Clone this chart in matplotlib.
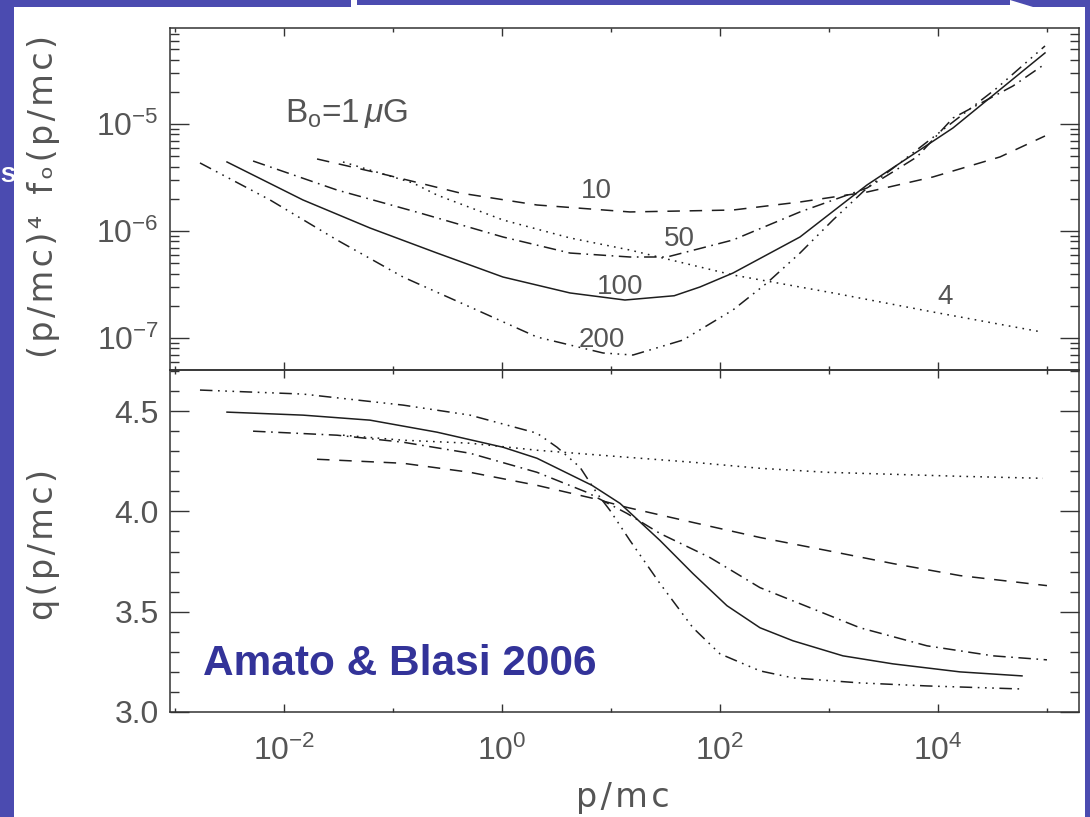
import matplotlib
matplotlib.use('Agg')
import numpy as np
import matplotlib.pyplot as plt
from matplotlib.patches import Polygon
from matplotlib.ticker import FixedLocator, NullFormatter, LogLocator, MultipleLocator, FuncFormatter

# ---------------- data ----------------
# log10(p/mc) and log10((p/mc)^4 f0) for each curve (labelled by value)
top_lx_4 = [-1.459, -0.817, -0.596, 0.009, 0.624, 1.174, 2.119, 3.037, 3.954, 4.954]
top_ly_4 = [-5.355, -5.551, -5.664, -5.897, -6.065, -6.178, -6.411, -6.579, -6.757, -6.944]

top_lx_10 = [-1.697, -1.055, -0.385, 0.321, 1.174, 2.119, 2.734, 3.349, 3.954, 4.569, 4.982]
top_ly_10 = [-5.327, -5.477, -5.645, -5.757, -5.822, -5.804, -5.729, -5.636, -5.495, -5.308, -5.112]

top_lx_50 = [-2.284, -1.514, -0.752, 0.009, 0.624, 1.174, 1.514, 2.119, 2.734, 3.349, 3.807, 4.138, 4.688, 4.982]
top_ly_50 = [-5.346, -5.617, -5.832, -6.056, -6.206, -6.243, -6.243, -6.084, -5.822, -5.598, -5.308, -4.944, -4.645, -4.439]

top_lx_100 = [-2.523, -1.826, -1.211, -0.596, 0.009, 0.624, 1.128, 1.58, 1.817, 2.119, 2.734, 3.349, 4.138, 4.982]
top_ly_100 = [-5.355, -5.710, -5.972, -6.206, -6.430, -6.579, -6.645, -6.605, -6.523, -6.393, -6.056, -5.570, -5.037, -4.336]

top_lx_200 = [-2.771, -2.128, -1.514, -0.908, -0.294, 0.321, 0.927, 1.202, 1.661, 2.119, 2.431, 2.734, 3.037, 3.349, 3.651, 4.138, 4.541, 4.982]
top_ly_200 = [-5.364, -5.710, -6.084, -6.430, -6.710, -6.991, -7.140, -7.159, -7.019, -6.738, -6.486, -6.206, -5.897, -5.598, -5.364, -4.981, -4.664, -4.271]

# log10(p/mc) and q(p/mc)
bot_lx_4 = [-1.459, -0.908, -0.294, 0.321, 1.147, 1.752, 2.367, 2.982, 3.587, 4.202, 4.963]
bot_q_4 = [4.38, 4.355, 4.34, 4.305, 4.27, 4.245, 4.215, 4.195, 4.185, 4.175, 4.165]

bot_lx_10 = [-1.697, -0.908, -0.294, 0.321, 0.835, 1.147, 1.752, 2.367, 2.982, 3.587, 4.202, 5.0]
bot_q_10 = [4.26, 4.24, 4.195, 4.13, 4.065, 4.02, 3.945, 3.87, 3.805, 3.74, 3.68, 3.63]

bot_lx_50 = [-2.284, -1.514, -0.908, -0.294, 0.321, 0.780, 1.147, 1.450, 1.908, 2.367, 2.826, 3.284, 3.899, 4.505, 5.0]
bot_q_50 = [4.40, 4.38, 4.345, 4.29, 4.195, 4.095, 3.99, 3.89, 3.77, 3.62, 3.52, 3.42, 3.33, 3.28, 3.26]

bot_lx_100 = [-2.523, -1.826, -1.211, -0.596, 0.009, 0.321, 0.826, 1.083, 1.450, 1.752, 2.064, 2.367, 2.670, 3.128, 3.587, 4.202, 4.771]
bot_q_100 = [4.495, 4.48, 4.455, 4.395, 4.32, 4.265, 4.13, 4.04, 3.855, 3.69, 3.53, 3.42, 3.355, 3.28, 3.24, 3.20, 3.18]

bot_lx_200 = [-2.771, -1.826, -0.908, -0.294, 0.321, 0.505, 0.716, 0.872, 0.991, 1.174, 1.450, 1.752, 2.0, 2.367, 2.670, 3.284, 3.899, 4.752]
bot_q_200 = [4.605, 4.585, 4.53, 4.48, 4.39, 4.32, 4.22, 4.09, 4.005, 3.855, 3.64, 3.42, 3.29, 3.205, 3.17, 3.145, 3.13, 3.115]

curve_names = ['4', '10', '50', '100', '200']
x_major = [1e-2, 1e0, 1e2, 1e4]
x_minor = [1e-3, 1e-1, 1e1, 1e3, 1e5]
q_major = [3.0, 3.5, 4.0, 4.5]

# ---------------- style ----------------
plt.rcParams['lines.scale_dashes'] = False
plt.rcParams['font.family'] = ['Liberation Sans', 'DejaVu Sans']
plt.rcParams['mathtext.fontset'] = 'custom'
plt.rcParams['mathtext.rm'] = 'Liberation Sans'
plt.rcParams['mathtext.it'] = 'Liberation Sans:italic'
plt.rcParams['mathtext.bf'] = 'Liberation Sans:bold'

TXT = '#555555'
LINE = '#1e1e1e'
BLUE = '#4b4bb0'
styles = {
    '4': (0, (1.2, 3.8)),
    '10': (0, (9.0, 7.0)),
    '50': (0, (9.0, 4.0, 1.2, 4.0)),
    '100': '-',
    '200': (0, (9.0, 4.0, 1.2, 4.0, 1.2, 4.0, 1.2, 4.0)),
}

W, H = 1090, 817
fig = plt.figure(figsize=(W / 100, H / 100), dpi=100)
fig.patch.set_facecolor('white')

def fx(px):
    return px / W

def fy(py):
    return 1 - py / H

# slide frame
def blue_poly(pts):
    fig.patches.append(Polygon([(fx(a), fy(b)) for a, b in pts], closed=True,
                               transform=fig.transFigure, facecolor=BLUE,
                               edgecolor='none', zorder=0))

blue_poly([(0, 0), (14, 0), (14, H), (0, H)])
blue_poly([(1085, 0), (W, 0), (W, H), (1085, H)])
blue_poly([(0, 0), (351, 0), (351, 7), (0, 7)])
blue_poly([(357, 0), (1010, 0), (1010, 4.5), (357, 4.5)])
blue_poly([(1010, 0), (W, 0), (W, 7), (1033, 7)])
fig.text(fx(7.5), fy(176), 'S', color='white', fontsize=16, fontweight='bold',
         ha='center', va='center')

L, R = 170, 1079
ax1 = fig.add_axes([fx(L), fy(370), fx(R) - fx(L), (370 - 28) / H])
ax2 = fig.add_axes([fx(L), fy(712), fx(R) - fx(L), (712 - 370) / H])

top = {'4': (top_lx_4, top_ly_4), '10': (top_lx_10, top_ly_10),
       '50': (top_lx_50, top_ly_50), '100': (top_lx_100, top_ly_100),
       '200': (top_lx_200, top_ly_200)}
bot = {'4': (bot_lx_4, bot_q_4), '10': (bot_lx_10, bot_q_10),
       '50': (bot_lx_50, bot_q_50), '100': (bot_lx_100, bot_q_100),
       '200': (bot_lx_200, bot_q_200)}

for name in curve_names:
    lx, ly = top[name]
    ax1.plot(10 ** np.array(lx), 10 ** np.array(ly), color=LINE, lw=1.1,
             linestyle=styles[name], dash_capstyle='butt', solid_joinstyle='round')
    lx, q = bot[name]
    ax2.plot(10 ** np.array(lx), q, color=LINE, lw=1.1,
             linestyle=styles[name], dash_capstyle='butt', solid_joinstyle='round')

xlo, xhi = 10 ** -3.046, 10 ** 5.294
for ax in (ax1, ax2):
    ax.set_xscale('log')
    ax.set_xlim(xlo, xhi)
    ax.xaxis.set_major_locator(FixedLocator(x_major))
    ax.xaxis.set_minor_locator(FixedLocator(x_minor))
    ax.xaxis.set_minor_formatter(NullFormatter())
    for s in ax.spines.values():
        s.set_linewidth(1.1)
        s.set_color('#333333')
    ax.tick_params(which='both', direction='in', top=True, right=True,
                   color='#333333', width=1.0, labelcolor=TXT, labelsize=23)
    ax.tick_params(axis='x', which='major', length=5.5, pad=17)
    ax.tick_params(axis='x', which='minor', length=2.8)
    ax.tick_params(axis='y', which='major', length=13.5, pad=8)
    ax.tick_params(axis='y', which='minor', length=6.5)
    ax.set_facecolor('none')

ax1.set_yscale('log')
ax1.set_ylim(10 ** -7.299, 10 ** -4.103)
ax1.yaxis.set_major_locator(LogLocator(base=10, numticks=20))
ax1.yaxis.set_minor_locator(LogLocator(base=10, subs=np.arange(2, 10), numticks=20))
ax1.yaxis.set_minor_formatter(NullFormatter())
ax1.yaxis.set_major_formatter(FuncFormatter(lambda v, p: r'$10^{%d}$' % round(np.log10(v))))
ax1.xaxis.set_major_formatter(NullFormatter())

ax2.set_ylim(3.0, 4.705)
ax2.yaxis.set_major_locator(FixedLocator(q_major))
ax2.yaxis.set_minor_locator(MultipleLocator(0.1))
ax2.yaxis.set_major_formatter(FuncFormatter(lambda v, p: '%.1f' % v))
ax2.xaxis.set_major_formatter(FuncFormatter(lambda v, p: r'$10^{%d}$' % round(np.log10(v))))

# curve labels
lab = dict(color=TXT, fontsize=20, ha='center', va='center')
fig.text(fx(596), fy(191), '10', **lab)
fig.text(fx(679), fy(239), '50', **lab)
fig.text(fx(620), fy(287), '100', **lab)
fig.text(fx(602), fy(340), '200', **lab)
fig.text(fx(945), fy(297), '4', **lab)
fig.text(fx(285), fy(114), r'B$_{\rm o}$=1$\,\mu$G', color=TXT, fontsize=24,
         ha='left', va='center')

# axis titles (wide letter spacing as in the original)
hs = '\u200a'
def spaced(s):
    return hs.join(list(s))

tfont = dict(color=TXT, fontsize=24, family='DejaVu Sans', ha='center', va='center')
fig.text(fx(44), fy(196), spaced('(p/mc)\u2074') + '  ' + spaced('f\u2092(p/mc)'),
         rotation=90, **tfont)
fig.text(fx(44), fy(545), spaced('q(p/mc)'), rotation=90, **tfont)
fig.text(fx(623), fy(797), spaced('p/mc'), **tfont)

fig.text(fx(203), fy(664), 'Amato & Blasi 2006', color='#333399', fontsize=30.5,
         fontweight='bold', ha='left', va='center')

fig.savefig('out.png', dpi=100, facecolor=fig.get_facecolor())
